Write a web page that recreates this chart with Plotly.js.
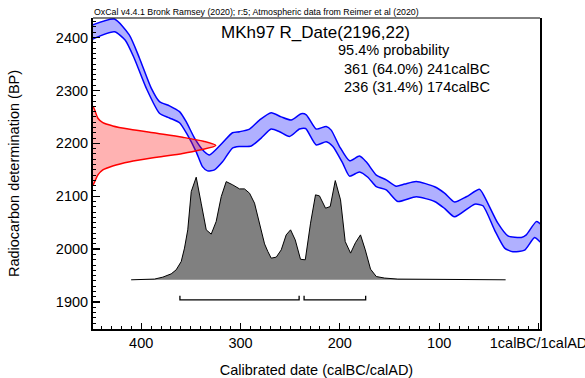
<!DOCTYPE html>
<html><head><meta charset="utf-8">
<script src="https://cdn.plot.ly/plotly-3.0.1.min.js"></script>
<style>html,body{margin:0;padding:0;background:#fff;} #chart{width:585px;height:378px;}</style>
</head><body><div id="chart"></div>
<script>
// ---- Data ----
// Calibration curve band (IntCal20), calendar years BC (positive) vs radiocarbon age BP
const curveUpperYear = [449, 427, 412, 401.7, 390, 381.6, 371.5, 361.4, 354.7, 346.3, 336.3, 331.2, 318.1, 308.1, 301, 290.9, 280.9, 269.1, 259, 248.9, 238.9, 233.8, 223.8, 213.7, 208.7, 200.3, 190.2, 180.2, 173.4, 163.3, 153.3, 143.2, 134.8, 123.1, 104.6, 94.6, 84.5, 72.7, 59.3, 54.3, 40.9, 30.8, 17.3, 12.3, 2.2, -3];
const curveUpperBP   = [2424, 2435, 2405, 2361, 2305, 2279, 2271, 2260, 2241, 2210, 2184, 2178, 2201, 2220, 2222, 2227, 2244, 2258, 2250, 2244, 2256, 2254, 2227, 2232, 2225, 2194, 2167, 2176, 2165, 2140, 2131, 2119, 2123, 2128, 2118, 2106, 2089, 2099, 2113, 2099, 2049, 2025, 2022, 2027, 2052, 2045];
const curveLowerYear = [449, 426.9, 416, 407, 395, 381.6, 371.5, 361.4, 353.4, 344.6, 338.3, 333.2, 326.2, 318.1, 308.1, 301, 289.2, 279.2, 269.1, 260.7, 250.7, 240.6, 234.5, 223.8, 213.7, 207, 197, 190.2, 180.2, 171.8, 163.3, 153.3, 141.6, 123.1, 104.6, 94.6, 84.5, 64.3, 56, 44.2, 34.1, 25.8, 14, 3.9, -3];
const curveLowerBP   = [2397, 2411, 2395, 2361, 2305, 2257, 2248, 2239, 2216, 2184, 2156, 2148, 2150, 2165, 2191, 2194, 2195, 2210, 2227, 2222, 2213, 2227, 2228, 2197, 2203, 2194, 2162, 2138, 2146, 2136, 2118, 2112, 2090, 2099, 2090, 2077, 2061, 2085, 2082, 2036, 2002, 1995, 1998, 2022, 2012];

// Radiocarbon measurement R_Date(2196,22): relative probability along the BP axis
const dateBP   = [2270, 2263, 2247.5, 2239, 2233, 2226.7, 2219, 2211.5, 2204, 2196, 2187.5, 2181, 2173.7, 2165.4, 2157.3, 2149.7, 2140.3, 2127.6, 2121];
const dateProb = [0, 0.014, 0.04, 0.08, 0.16, 0.30, 0.52, 0.73, 0.90, 1.0, 0.87, 0.73, 0.52, 0.30, 0.16, 0.08, 0.04, 0.014, 0];

// Calibrated date distribution: calendar years BC vs relative probability
const calYear = [410.1, 386.6, 378.2, 369.8, 364.8, 359.7, 356.4, 353.1, 349.6, 344.6, 339.6, 334.5, 329.5, 324.5, 319.4, 314.4, 307.8, 301, 296, 290.9, 285.9, 280.9, 275.8, 272.5, 269.1, 264, 259, 254, 249.6, 244.9, 239.6, 234.8, 229.5, 224.5, 220.5, 214.4, 209.7, 204.6, 199.3, 194.6, 189.2, 184.2, 179.2, 174.4, 169.1, 163.3, 155, 141.6, 124.8, 109.7, 33.1];
const calProb = [0, 0.007, 0.026, 0.058, 0.097, 0.178, 0.309, 0.487, 0.86, 1.0, 0.747, 0.487, 0.445, 0.568, 0.811, 0.957, 0.925, 0.886, 0.886, 0.844, 0.747, 0.552, 0.35, 0.276, 0.211, 0.221, 0.292, 0.438, 0.487, 0.389, 0.2, 0.195, 0.552, 0.828, 0.818, 0.698, 0.714, 0.967, 0.779, 0.373, 0.26, 0.363, 0.438, 0.292, 0.104, 0.032, 0.017, 0.007, 0.006, 0.003, 0];

// 95.4% probability ranges
const rangeFrom = [361, 236];
const rangeTo   = [241, 174];
const rangePct  = [64.0, 31.4];

// Ticks and labels
const xTickVals = [400, 300, 200, 100, 0];
const xTickText = ['400', '300', '200', '100', '1calBC/1calAD'];
const yTickVals = [1900, 2000, 2100, 2200, 2300, 2400];

const headerText = 'OxCal v4.4.1 Bronk Ramsey (2020); r:5; Atmospheric data from Reimer et al (2020)';
const dateTitle = 'MKh97 R_Date(2196,22)';
const probTitle = '95.4% probability';

// ---- Layout constants ----
const FONT = 'Liberation Sans, Arial, Helvetica, sans-serif';
const X_RANGE = [448.5, -1.5];
const Y_RANGE = [1849, 2437];
const DATE_WIDTH_YEARS = 123.6;   // horizontal extent of the measurement curve at its peak
const CAL_BASE_BP = 1942;         // baseline of the calibrated distribution
const CAL_HEIGHT_BP = 194;        // height of the calibrated distribution at its peak
const BRACKET_BP = 1904, BRACKET_TICK_BP = 1912;

// Blue band polygon
const bandX = curveUpperYear.concat(curveLowerYear.slice().reverse());
const bandY = curveUpperBP.concat(curveLowerBP.slice().reverse());

const traces = [];
traces.push({
  type: 'scatter', mode: 'lines', x: bandX, y: bandY, fill: 'toself',
  fillcolor: 'rgba(0,0,255,0.31)', line: {color: '#0000ff', width: 1.5, shape: 'spline', smoothing: 0.6},
  hoverinfo: 'skip'
});

// Red measurement curve
const dateX = dateProb.map(p => X_RANGE[0] - p * DATE_WIDTH_YEARS);
traces.push({
  type: 'scatter', mode: 'lines', x: dateX, y: dateBP, fill: 'toself',
  fillcolor: 'rgba(255,0,0,0.3)', line: {color: '#ff0000', width: 1.5, shape: 'spline', smoothing: 0.8},
  hoverinfo: 'skip'
});

// Grey calibrated distribution
traces.push({
  type: 'scatter', mode: 'lines', x: calYear, y: calProb.map(p => CAL_BASE_BP + p * CAL_HEIGHT_BP),
  fill: 'toself', fillcolor: '#808080', line: {color: '#000', width: 1},
  hoverinfo: 'skip'
});

// Range brackets
const bx = [], by = [];
rangeFrom.forEach((f, i) => {
  bx.push(f, f, rangeTo[i], rangeTo[i], null);
  by.push(BRACKET_TICK_BP, BRACKET_BP, BRACKET_BP, BRACKET_TICK_BP, null);
});
traces.push({type: 'scatter', mode: 'lines', x: bx, y: by, line: {color: '#000', width: 1.3}, hoverinfo: 'skip', connectgaps: false});

const rangeLines = rangeFrom.map((f, i) => f + ' (' + rangePct[i].toFixed(1) + '%) ' + rangeTo[i] + 'calBC');

const annotations = [
  {text: headerText, xref: 'paper', yref: 'paper', x: 0, y: 1, xanchor: 'left', yanchor: 'bottom', showarrow: false, borderpad: 0, font: {size: 8.8}},
  {text: dateTitle, xref: 'paper', yref: 'paper', x: 0.284, y: 0.952, xanchor: 'left', yanchor: 'middle', showarrow: false, borderpad: 0, font: {size: 17}},
  {text: probTitle, xref: 'paper', yref: 'paper', x: 0.545, y: 0.897, xanchor: 'left', yanchor: 'middle', showarrow: false, borderpad: 0, font: {size: 14.5}},
  {text: rangeLines[0], xref: 'paper', yref: 'paper', x: 0.559, y: 0.836, xanchor: 'left', yanchor: 'middle', showarrow: false, borderpad: 0, font: {size: 14.5}},
  {text: rangeLines[1], xref: 'paper', yref: 'paper', x: 0.559, y: 0.778, xanchor: 'left', yanchor: 'middle', showarrow: false, borderpad: 0, font: {size: 14.5}}
];

const layout = {
  width: 585, height: 378,
  margin: {l: 93, r: 45, t: 18, b: 49, pad: 0},
  paper_bgcolor: '#fff', plot_bgcolor: '#fff',
  showlegend: false,
  font: {family: FONT, size: 14.5, color: '#000'},
  xaxis: {
    range: X_RANGE, tickmode: 'array', tickvals: xTickVals, ticktext: xTickText,
    ticks: 'inside', ticklen: 6.5, tickwidth: 1.3, tickcolor: '#000',
    showline: true, linewidth: 2, linecolor: '#000', mirror: false,
    showgrid: false, zeroline: false, ticklabeloverflow: 'allow',
    minor: {tickmode: 'linear', tick0: 0, dtick: 10, ticks: 'inside', ticklen: 3, tickwidth: 1, tickcolor: '#000', showgrid: false},
    tickfont: {size: 14.5},
    title: {text: 'Calibrated date (calBC/calAD)', font: {size: 14.5}, standoff: 14},
    fixedrange: true
  },
  yaxis: {
    range: Y_RANGE, tickmode: 'array', tickvals: yTickVals,
    ticks: 'inside', ticklen: 6.5, tickwidth: 1.3, tickcolor: '#000',
    showline: true, linewidth: 2, linecolor: '#000', mirror: true,
    showgrid: false, zeroline: false,
    minor: {tickmode: 'linear', tick0: 0, dtick: 10, ticks: 'inside', ticklen: 3, tickwidth: 1, tickcolor: '#000', showgrid: false},
    tickfont: {size: 14.5},
    title: {text: 'Radiocarbon determination (BP)', font: {size: 14.5}, standoff: 33},
    fixedrange: true
  },
  shapes: [
    {type: 'line', xref: 'paper', yref: 'paper', x0: 0, x1: 1, y0: 1, y1: 1, line: {color: '#000', width: 1}}
  ],
  annotations: annotations
};

Plotly.newPlot('chart', traces, layout, {displayModeBar: false, staticPlot: true});
</script></body></html>
